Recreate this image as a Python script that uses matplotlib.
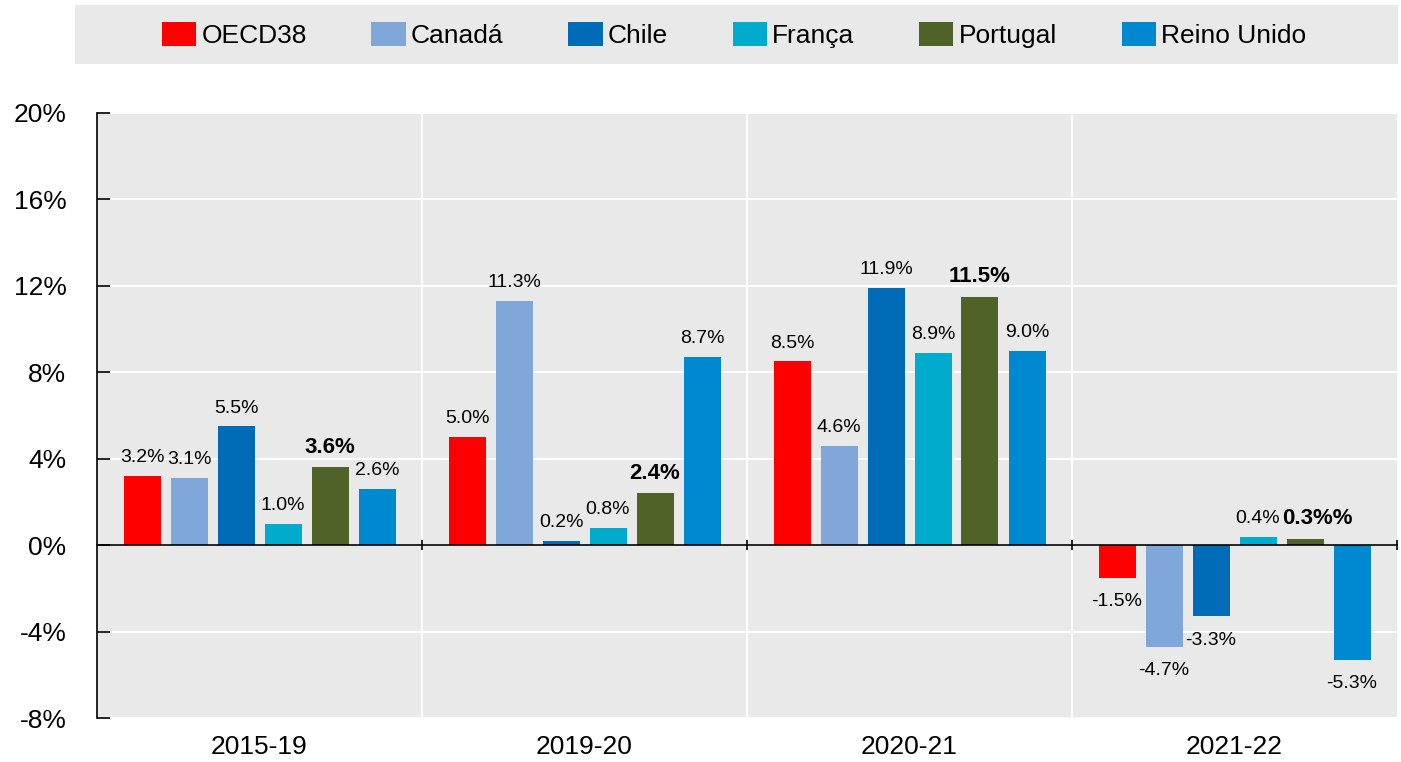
import numpy as np
import matplotlib.pyplot as plt
from matplotlib.patches import Rectangle

plt.rcParams['font.family'] = ['Liberation Sans Narrow', 'Liberation Sans', 'DejaVu Sans']

periods = ['2015-19', '2019-20', '2020-21', '2021-22']
series = ['OECD38', 'Canadá', 'Chile', 'França', 'Portugal', 'Reino Unido']
oecd = [3.2, 5.0, 8.5, -1.5]
canada = [3.1, 11.3, 4.6, -4.7]
chile = [5.5, 0.2, 11.9, -3.3]
franca = [1.0, 0.8, 8.9, 0.4]
portugal = [3.6, 2.4, 11.5, 0.3]
reino = [2.6, 8.7, 9.0, -5.3]
portugal_labels = ['3.6%', '2.4%', '11.5%', '0.3%%']
colors = ['#ff0000', '#7fa7d9', '#006bb6', '#00abcd', '#4f6228', '#0089d1']
yticks = [-8, -4, 0, 4, 8, 12, 16, 20]

values = [oecd, canada, chile, franca, portugal, reino]

fig = plt.figure(figsize=(14.01, 7.62), dpi=100)
ax = fig.add_axes([97 / 1401, 1 - 718 / 762, 1300 / 1401, 605 / 762])
ax.set_facecolor('#e9e9e9')

x = np.arange(len(periods))
step = 47 / 325
width = 37 / 325
for i, (name, vals, col) in enumerate(zip(series, values, colors)):
    pos = x + (i - 2.5) * step
    ax.bar(pos, vals, width, color=col, label=name, zorder=3)
    for j, (p, v) in enumerate(zip(pos, vals)):
        dx = 0
        if name == 'Portugal':
            txt = portugal_labels[j]
            weight = 'bold'
            fs = 16
            if j == 3:
                dx = 9  # sits right next to the França label
        else:
            txt = f'{v:.1f}%'
            weight = 'normal'
            fs = 14
        if v >= 0:
            ax.annotate(txt, (p, v), xytext=(dx, 7), textcoords='offset points',
                        ha='center', va='bottom', fontsize=fs, fontweight=weight)
        else:
            ax.annotate(txt, (p, v), xytext=(dx, -11), textcoords='offset points',
                        ha='center', va='top', fontsize=fs, fontweight=weight)

ax.set_xlim(-0.5, 3.5)
ax.set_ylim(-8, 20)
ax.set_yticks(yticks)
ax.set_yticklabels([f'{t}%' for t in yticks], fontsize=19)
ax.set_xticks(x)
ax.set_xticklabels(periods, fontsize=19)
ax.set_xticks([0.5, 1.5, 2.5], minor=True)
ax.tick_params(axis='x', which='both', length=0, pad=12)
ax.tick_params(axis='y', direction='in', length=9, width=1.2, pad=22)
ax.grid(True, which='minor', axis='x', color='white', lw=1.5, zorder=0)
ax.grid(True, which='major', axis='y', color='white', lw=1.5, zorder=0)
for s in ['top', 'right', 'bottom']:
    ax.spines[s].set_visible(False)
ax.spines['left'].set_linewidth(1.2)

# zero line with small ticks at the group boundaries
zero = ax.secondary_xaxis(8 / 28)
zero.set_zorder(5)
zero.set_xticks([0.5, 1.5, 2.5, 3.5])
zero.set_xticklabels([])
zero.tick_params(direction='inout', length=7, width=1.2)
zero.spines['bottom'].set_linewidth(1.2)

fig.patches.append(Rectangle((75 / 1401, 1 - 64 / 762), 1323 / 1401, 59 / 762,
                             transform=fig.transFigure, facecolor='#e9e9e9',
                             edgecolor='none', zorder=0))
fig.legend(loc='center', bbox_to_anchor=(734 / 1401, 1 - 35 / 762), ncol=6,
           frameon=False, fontsize=19, handlelength=1.3, handleheight=1.0,
           handletextpad=0.2, columnspacing=2.45)

fig.savefig('out.png', dpi=100)
